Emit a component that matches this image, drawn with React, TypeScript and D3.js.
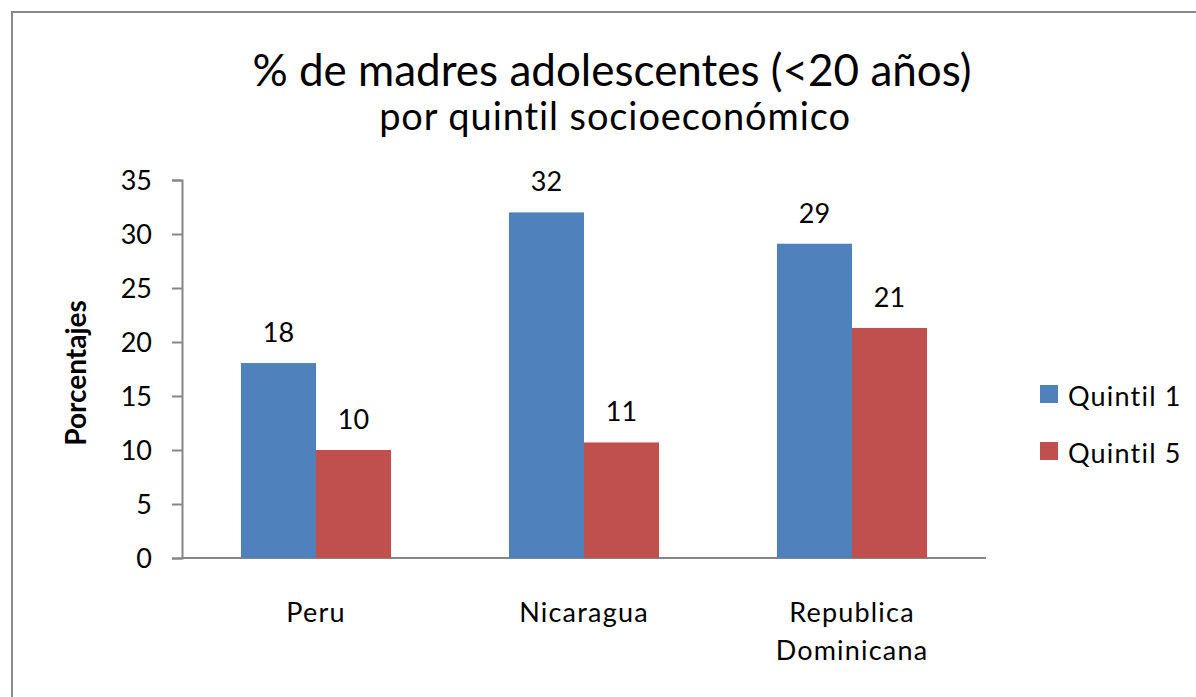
import React, { useRef, useEffect } from "react";
import * as d3 from "d3";

const categories = ["Peru", "Nicaragua", "Republica Dominicana"];
const seriesNames = ["Quintil 1", "Quintil 5"];
const quintil1 = [18.05, 32.0, 29.1];
const quintil5 = [10.0, 10.7, 21.3];
const labels1 = ["18", "32", "29"];
const labels5 = ["10", "11", "21"];
const yTicks = [0, 5, 10, 15, 20, 25, 30, 35];

const App = () => {
  const ref = useRef<SVGSVGElement | null>(null);

  const width = 1196;
  const height = 697;
  const font = "Lato, 'Open Sans', sans-serif";
  const colors = ["#4F81BD", "#C0504D"];

  useEffect(() => {
    const svg = d3.select(ref.current);
    svg.selectAll("*").remove();

    // outer chart frame (right/bottom edges fall outside the window)
    svg
      .append("rect")
      .attr("x", 12)
      .attr("y", 12)
      .attr("width", 1300)
      .attr("height", 800)
      .attr("fill", "white")
      .attr("stroke", "#898989")
      .attr("stroke-width", 2);

    const left = 182;
    const right = 986;
    const top = 180;
    const bottom = 558;

    const x0 = d3
      .scaleBand()
      .domain(categories)
      .range([left, right])
      .paddingInner(0.44)
      .paddingOuter(0.22);

    const x1 = d3
      .scaleBand()
      .domain(seriesNames)
      .range([0, x0.bandwidth()]);

    const y = d3.scaleLinear().domain([0, 35]).range([bottom, top]);

    const rows = categories.map((c, i) => ({
      cat: c,
      values: [
        { name: seriesNames[0], v: quintil1[i], label: labels1[i] },
        { name: seriesNames[1], v: quintil5[i], label: labels5[i] },
      ],
    }));

    // titles
    svg
      .append("text")
      .attr("x", 612)
      .attr("y", 86)
      .attr("text-anchor", "middle")
      .style("font-family", font)
      .style("font-size", "44px")
      .text("% de madres adolescentes (<20 años)");
    svg
      .append("text")
      .attr("x", 615)
      .attr("y", 130)
      .attr("text-anchor", "middle")
      .style("font-family", font)
      .style("font-size", "38px")
      .style("letter-spacing", "0.9px")
      .text("por quintil socioeconómico");

    // y axis
    const yAxis = svg
      .append("g")
      .attr("transform", `translate(${left},0)`)
      .call(d3.axisLeft(y).tickValues(yTicks).tickSize(10).tickPadding(20));
    yAxis.select(".domain").attr("stroke", "#868686").attr("stroke-width", 2);
    yAxis.selectAll(".tick line").attr("stroke", "#868686").attr("stroke-width", 2);
    yAxis
      .selectAll(".tick text")
      .attr("fill", "#000")
      .style("font-family", font)
      .style("font-size", "27px")
      .attr("dy", "0.35em");

    // x baseline
    svg
      .append("line")
      .attr("x1", left)
      .attr("x2", right)
      .attr("y1", bottom)
      .attr("y2", bottom)
      .attr("stroke", "#868686")
      .attr("stroke-width", 2);

    // bars
    const groups = svg
      .selectAll("g.cat")
      .data(rows)
      .enter()
      .append("g")
      .attr("class", "cat")
      .attr("transform", (d) => `translate(${x0(d.cat)},0)`);

    groups
      .selectAll("rect")
      .data((d) => d.values)
      .enter()
      .append("rect")
      .attr("x", (d) => x1(d.name) as number)
      .attr("y", (d) => y(d.v))
      .attr("width", x1.bandwidth())
      .attr("height", (d) => bottom - y(d.v))
      .attr("fill", (d, i) => colors[i]);

    groups
      .selectAll("text.val")
      .data((d) => d.values)
      .enter()
      .append("text")
      .attr("class", "val")
      .attr("x", (d) => (x1(d.name) as number) + x1.bandwidth() / 2)
      .attr("y", (d) => y(d.v) - 21)
      .attr("text-anchor", "middle")
      .style("font-family", font)
      .style("font-size", "27px")
      .text((d) => d.label);

    // category labels
    const catText = svg
      .selectAll("text.cat")
      .data(categories)
      .enter()
      .append("text")
      .attr("class", "cat")
      .attr("x", (d) => (x0(d) as number) + x0.bandwidth() / 2)
      .attr("y", 622)
      .attr("text-anchor", "middle")
      .style("font-family", font)
      .style("font-size", "27px")
      .style("letter-spacing", "1.2px");
    catText.each(function (d) {
      const words = d === "Republica Dominicana" ? ["Republica", "Dominicana"] : [d];
      const t = d3.select(this);
      words.forEach((w, i) => {
        t.append("tspan")
          .attr("x", (x0(d) as number) + x0.bandwidth() / 2)
          .attr("dy", i === 0 ? 0 : 38)
          .text(w);
      });
    });

    // y axis title
    svg
      .append("text")
      .attr("transform", `translate(86,${(top + bottom) / 2 + 4}) rotate(-90)`)
      .attr("text-anchor", "middle")
      .style("font-family", font)
      .style("font-size", "28px")
      .style("font-weight", "bold")
      .text("Porcentajes");

    // legend
    const legend = svg
      .selectAll("g.legend")
      .data(seriesNames)
      .enter()
      .append("g")
      .attr("class", "legend")
      .attr("transform", (d, i) => `translate(1040,${385 + i * 57})`);
    legend
      .append("rect")
      .attr("width", 18)
      .attr("height", 18)
      .attr("fill", (d, i) => colors[i]);
    legend
      .append("text")
      .attr("x", 28)
      .attr("y", 21)
      .style("font-family", font)
      .style("font-size", "27px")
      .style("letter-spacing", "1.2px")
      .text((d) => d);
  }, []);

  return (
    <svg
      ref={ref}
      width={width}
      height={height}
      style={{ position: "absolute", left: 0, top: 0 }}
    ></svg>
  );
};

export default App;
